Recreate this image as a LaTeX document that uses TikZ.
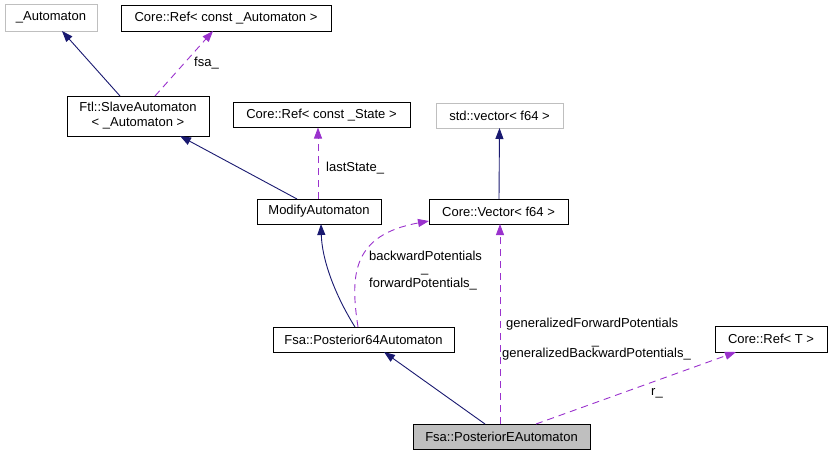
\documentclass[tikz,border=0pt]{standalone}
\usepackage{fontspec}
\setmainfont{Liberation Sans}
\usetikzlibrary{arrows.meta}
\definecolor{EdgeNavy}{HTML}{191970}
\definecolor{EdgePurple}{HTML}{9A32CD}
\definecolor{BoxGray}{HTML}{BFBFBF}
\begin{document}
\begin{tikzpicture}[x=1pt,y=-1pt, every node/.style={font=\fontsize{13}{15}\selectfont},
  classbox/.style={draw=black, line width=0.9pt, inner sep=0pt, outer sep=0pt, align=center},
  extbox/.style={classbox, draw=BoxGray},
  inherit/.style={draw=EdgeNavy, line width=0.9pt, -{Triangle[length=11pt,width=8pt]}},
  uses/.style={draw=EdgePurple, line width=0.9pt, dash pattern=on 7pt off 5pt, -{Triangle[length=11pt,width=8pt]}},
  edgelabel/.style={anchor=base west, inner sep=0pt}]
  \useasboundingbox (0,0) rectangle (832,456);
  \node[extbox, minimum width=92pt, minimum height=27pt] (automaton) at (51,17.5) {\_Automaton};
  \node[classbox, minimum width=210pt, minimum height=26pt] (refautomaton) at (226,18) {Core::Ref< const \_Automaton >};
  \node[classbox, minimum width=142pt, minimum height=40pt] (slave) at (138,116) {Ftl::SlaveAutomaton\\< \_Automaton >};
  \node[classbox, minimum width=177pt, minimum height=25pt] (refstate) at (321.5,115) {Core::Ref< const \_State >};
  \node[extbox, minimum width=127pt, minimum height=25pt] (stdvector) at (499.5,115.5) {std::vector< f64 >};
  \node[classbox, minimum width=124pt, minimum height=25pt] (modify) at (319,211.5) {ModifyAutomaton};
  \node[classbox, minimum width=139pt, minimum height=25pt] (corevector) at (498.5,211.5) {Core::Vector< f64 >};
  \node[classbox, minimum width=181pt, minimum height=25pt] (post64) at (363.5,339.5) {Fsa::Posterior64Automaton};
  \node[classbox, minimum width=112pt, minimum height=26pt] (refT) at (771,339) {Core::Ref< T >};
  \node[classbox, fill=BoxGray, minimum width=177pt, minimum height=25pt] (postE) at (501.5,436.5) {Fsa::PosteriorEAutomaton};
  \draw[inherit] ([xshift=-18pt]slave.north) -- ([xshift=11pt]automaton.south);
  \draw[uses] ([xshift=17pt]slave.north) -- ([xshift=-13pt]refautomaton.south);
  \node[edgelabel] (lblfsa) at (194,66) {fsa\_};
  \draw[inherit] ([xshift=-22pt]modify.north) -- ([xshift=42pt]slave.south);
  \draw[uses] ([xshift=-1pt]modify.north) -- ([xshift=-3.5pt]refstate.south);
  \node[edgelabel] (lbllast) at (326,171) {lastState\_};
  \draw[inherit] ([xshift=0.5pt]corevector.north) -- (stdvector.south);
  \draw[inherit] ([xshift=-8.5pt]post64.north) .. controls (335,295) and (322,260) .. ([xshift=2pt]modify.south);
  \draw[uses] ([xshift=-5.5pt]post64.north) .. controls (350,275) and (352,235) .. ([yshift=-9.5pt]corevector.west);
  \node[edgelabel] (lblback) at (369,260) {backwardPotentials};
  \node[edgelabel] (lblfwd) at (369,287.5) {forwardP\rlap{\raisebox{14.8pt}{\_}}otentials\_};
  \draw[inherit] ([xshift=-16.5pt]postE.north) -- ([xshift=20.5pt]post64.south);
  \draw[uses] ([xshift=-1.5pt]postE.north) -- ([xshift=1.5pt]corevector.south);
  \node[edgelabel] (lblgenfwd) at (506,327.6) {generalizedForwardPotentials};
  \node[edgelabel] (lblgenback) at (502,357) {generalizedBac\rlap{\raisebox{13pt}{\_}}kwardPotentials\_};
  \draw[uses] ([xshift=34.5pt]postE.north) -- ([xshift=-35pt]refT.south);
  \node[edgelabel] (lblr) at (651,395) {r\_};
\end{tikzpicture}
\end{document}
